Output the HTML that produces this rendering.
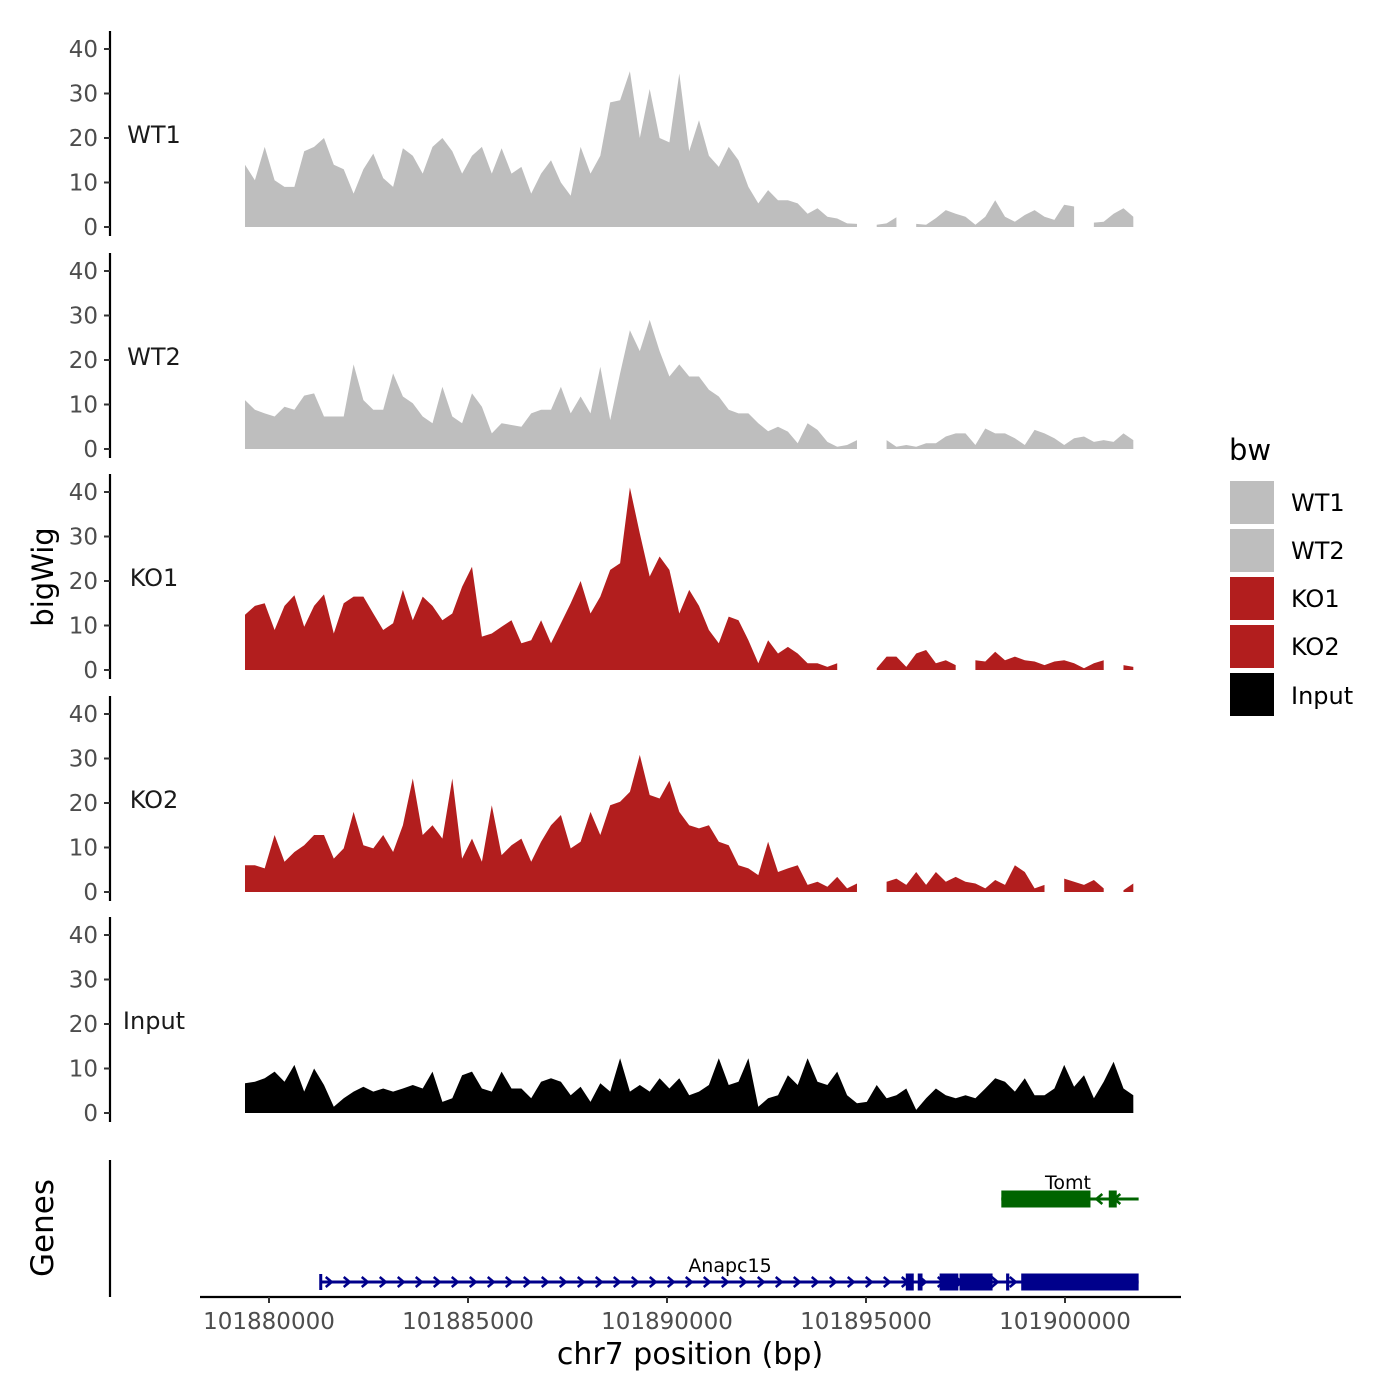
<!DOCTYPE html>
<html><head><meta charset="utf-8"><style>
html,body{margin:0;padding:0;background:#fff;}
svg{display:block;font-family:"DejaVu Sans","Liberation Sans",sans-serif;}
</style></head><body>
<svg id="chart" width="1400" height="1400" viewBox="0 0 1400 1400" xmlns="http://www.w3.org/2000/svg">
<rect width="1400" height="1400" fill="#fff"/>
</svg>
<script>
// ---- data ----
const startBp = 101879397;
const stepBp = 248;
const trackNames = ["WT1","WT2","KO1","KO2","Input"];
const trackColors = ["#bebebe","#bebebe","#b21e1e","#b21e1e","#000000"];
const wt1 = [14,10.5,18,10.5,9,9,17,18,20,14,13,7.5,13,16.5,11,9,17.7,16,12,18,20,17,12,16,18,12,17.7,12,13.5,7.5,12,15,10,7,18,12,16,28,28.5,35,20,31,20,19,34.5,17,24,16,13.5,18,15,9,5.3,8.3,6,6,5.3,3,4.2,2.3,1.9,0.8,0.7,null,0.5,0.8,2.2,null,0.7,0.5,2,3.8,3,2.3,0.5,2.3,6,2.3,1.2,2.7,3.8,2.3,1.6,5,4.6,null,1,1.2,3,4.2,2.3];
const wt2 = [11,8.8,8,7.3,9.5,8.8,12,12.5,7.3,7.3,7.3,19,11,8.8,8.8,17,11.8,10.3,7.3,5.8,14,7.3,5.8,12.5,9.5,3.5,5.8,5.4,5,8,8.8,8.8,14,8,11.8,8,18.5,6.5,17,26.7,22,29,22,16.3,19,16.3,16.3,13.3,11.8,8.8,8,8,5.8,4,5,3.9,1.3,5.8,4.3,1.6,0.5,0.9,2,null,null,2,0.5,0.9,0.5,1.3,1.3,2.8,3.5,3.5,0.9,4.6,3.5,3.5,2.4,0.9,4.3,3.5,2.4,0.9,2.4,2.8,1.6,2,1.6,3.5,2];
const ko1 = [12.4,14.4,15,9,14.4,16.8,9.7,14.4,17,8.2,15,16.5,16.5,12.7,9,10.5,18,11.2,16.5,14.4,11.2,12.7,18.7,23.2,7.5,8.2,9.7,11.2,6,6.7,11.2,6,10.5,15,20,12.7,16.5,22.5,24,41,30.7,21,25.5,22.5,12.7,18,14.4,9,6,12,11.2,6.7,1.5,6.7,3.7,5.2,3.7,1.5,1.5,0.7,1.5,null,null,null,0.4,3,3,0.7,3.7,4.5,1.5,2.2,1.1,null,2.2,1.9,4.1,2.2,3,2.2,1.9,1.1,1.9,2.2,1.5,0.4,1.5,2.2,null,1.1,0.7];
const ko2 = [6,6,5.3,12.8,6.8,9,10.5,12.8,12.8,7.5,9.8,18,10.5,9.8,12.8,9,15,25.5,12.8,15,12,25.5,7.5,12,6.8,19.5,8.3,10.5,12,6.8,11.3,15,17.3,9.8,11.3,18,12.8,19.5,20.3,22.5,30.8,21.8,21,25,18,15,14.3,15,11.3,10.5,6,5.3,3.8,11.3,4.5,5.3,6,1.6,2.3,1.2,3.4,0.8,1.9,null,null,2.3,3,1.6,4.5,1.6,4.5,2.3,3.4,2.3,1.9,0.8,2.7,1.6,6,4.5,0.8,1.6,null,3,2.3,1.6,2.7,0.8,null,0.4,1.9];
const input = [6.7,7,7.8,9.3,7,10.8,4.8,10,6.3,1.4,3.3,4.8,5.9,4.8,5.5,4.8,5.5,6.3,5.5,9.3,2.5,3.3,8.5,9.3,5.5,4.8,9.3,5.5,5.5,3.3,7,7.8,7,4,5.9,2.5,6.7,4.8,12.3,4.8,6.3,4.8,7.8,5.5,7.8,4,4.8,6.3,12.3,6.3,7,12.3,1.4,3.3,4,8.5,6.3,12.3,7,6.3,9.3,4,2.2,2.5,6.3,3.3,4,5.5,0.7,3.3,5.5,4,3.3,4,3.3,5.5,7.8,7,4.8,7.8,4,4,5.5,10.8,5.9,8.5,3.3,7,11.5,5.5,4];
const tracks = [wt1,wt2,ko1,ko2,input];
const yTicks = [0,10,20,30,40];
const xTicks = [101880000,101885000,101890000,101895000,101900000];
const anapc15Span = [101881300, 101901850];
const anapc15Exons = [[101896000,101896200],[101896300,101896420],[101896850,101897320],[101897350,101898180],[101898520,101898600],[101898900,101901850]];
const tomtSpan = [101898400, 101901850];
const tomtExons = [[101898400,101900640],[101901100,101901300]];

// ---- scales ----
const X = bp => 269 + (bp - 101880000) / 5000 * 199;
const panelZero = [227, 449, 670, 892, 1113];
const Y = (i, v) => panelZero[i] - v * 4.45;

const svg = document.getElementById('chart');
const NS = 'http://www.w3.org/2000/svg';
function mk(tag, attrs, parent) {
  const e = document.createElementNS(NS, tag);
  for (const k in attrs) e.setAttribute(k, attrs[k]);
  (parent || svg).appendChild(e);
  return e;
}

tracks.forEach((vals, i) => {
  const g = mk('g', {});
  
  
  let seg = [];
  const flush = () => {
    if (seg.length > 1) {
      let d = 'M' + seg[0][0] + ',' + panelZero[i];
      seg.forEach(p => d += 'L' + p[0].toFixed(1) + ',' + p[1].toFixed(1));
      d += 'L' + seg[seg.length - 1][0] + ',' + panelZero[i] + 'Z';
      const p = mk('path', { d: d, fill: trackColors[i] }, g);
      
      
    }
    seg = [];
  };
  vals.forEach((v, j) => {
    if (v === null) { flush(); return; }
    seg.push([X(startBp + j * stepBp), Y(i, v)]);
  });
  flush();
  const ax = mk('line', { x1: 110, x2: 110, y1: Y(i, 40) - 18, y2: panelZero[i] + 9, stroke: '#000', 'stroke-width': 2.2 }, g);
  
  
  yTicks.forEach(t => {
    const y = Y(i, t);
    const tk = mk('line', { x1: 104, x2: 110, y1: y, y2: y, stroke: '#333', 'stroke-width': 2 }, g);
    
    
    const tl = mk('text', { x: 98, y: y + 8, 'text-anchor': 'end', 'font-size': 23, fill: '#4d4d4d' }, g);
    tl.textContent = t;
    
    
  });
  const lab = mk('text', { x: 154, y: Y(i, 20) + 5, 'text-anchor': 'middle', 'font-size': 24, fill: '#1a1a1a' }, g);
  lab.textContent = trackNames[i];
  
  
});

const gg = mk('g', {});


const gax = mk('line', { x1: 110, x2: 110, y1: 1160, y2: 1297, stroke: '#000', 'stroke-width': 2.2 }, gg);



function drawGene(name, span, exons, y, color, dir, labelX) {
  const g = mk('g', {}, gg);
  
  
  mk('line', { x1: X(span[0]), x2: X(span[1]), y1: y, y2: y, stroke: color, 'stroke-width': 3 }, g);
  for (let x = X(span[0]) + 8; x < X(span[1]) - 4; x += 18) {
    const d = dir > 0 ? `M${x - 3},${y - 5}L${x + 3},${y}L${x - 3},${y + 5}` : `M${x + 3},${y - 5}L${x - 3},${y}L${x + 3},${y + 5}`;
    mk('path', { d: d, stroke: color, 'stroke-width': 2.5, fill: 'none' }, g);
  }
  exons.forEach(e => {
    const r = mk('rect', { x: X(e[0]), y: y - 8.5, width: Math.max(3, X(e[1]) - X(e[0])), height: 17, fill: color }, g);
    
    
  });
  const t = mk('text', { x: labelX, y: y - 10, 'text-anchor': 'middle', 'font-size': 19, fill: '#000' }, g);
  t.textContent = name;
  
  
}
drawGene('Tomt', tomtSpan, tomtExons, 1199, '#006400', -1, 1068);
drawGene('Anapc15', anapc15Span, anapc15Exons, 1282, '#00008b', 1, 730);
mk('line', { x1: X(anapc15Span[0]), x2: X(anapc15Span[0]), y1: 1274, y2: 1290, stroke: '#00008b', 'stroke-width': 3 }, gg);

const xg = mk('g', {});


mk('line', { x1: 200, x2: 1181, y1: 1297, y2: 1297, stroke: '#000', 'stroke-width': 2.2 }, xg);
xTicks.forEach(t => {
  mk('line', { x1: X(t), x2: X(t), y1: 1297, y2: 1303, stroke: '#333', 'stroke-width': 2 }, xg);
  const tl = mk('text', { x: X(t), y: 1329, 'text-anchor': 'middle', 'font-size': 23, fill: '#4d4d4d' }, xg);
  tl.textContent = t;
  
  
});
</script>
<svg style="position:absolute;left:0;top:0" width="1400" height="1400">
  <text x="690" y="1364" text-anchor="middle" font-size="30" fill="#000" font-family="DejaVu Sans, sans-serif">chr7 position (bp)</text>
  <text transform="translate(53,577) rotate(-90)" text-anchor="middle" font-size="29" fill="#000" font-family="DejaVu Sans, sans-serif">bigWig</text>
  <text transform="translate(53,1228) rotate(-90)" text-anchor="middle" font-size="31" fill="#000" font-family="DejaVu Sans, sans-serif">Genes</text>
  <g font-family="DejaVu Sans, sans-serif">
    <text x="1229" y="460" font-size="29" fill="#000">bw</text>
    <rect x="1230" y="481" width="44" height="43" fill="#bebebe"/>
    <rect x="1230" y="529" width="44" height="43" fill="#bebebe"/>
    <rect x="1230" y="577" width="44" height="43" fill="#b21e1e"/>
    <rect x="1230" y="625" width="44" height="43" fill="#b21e1e"/>
    <rect x="1230" y="673" width="44" height="43" fill="#000"/>
    <text x="1291" y="511" font-size="24">WT1</text>
    <text x="1291" y="559" font-size="24">WT2</text>
    <text x="1291" y="607" font-size="24">KO1</text>
    <text x="1291" y="655" font-size="24">KO2</text>
    <text x="1291" y="704" font-size="24">Input</text>
  </g>
</svg>
</body></html>
